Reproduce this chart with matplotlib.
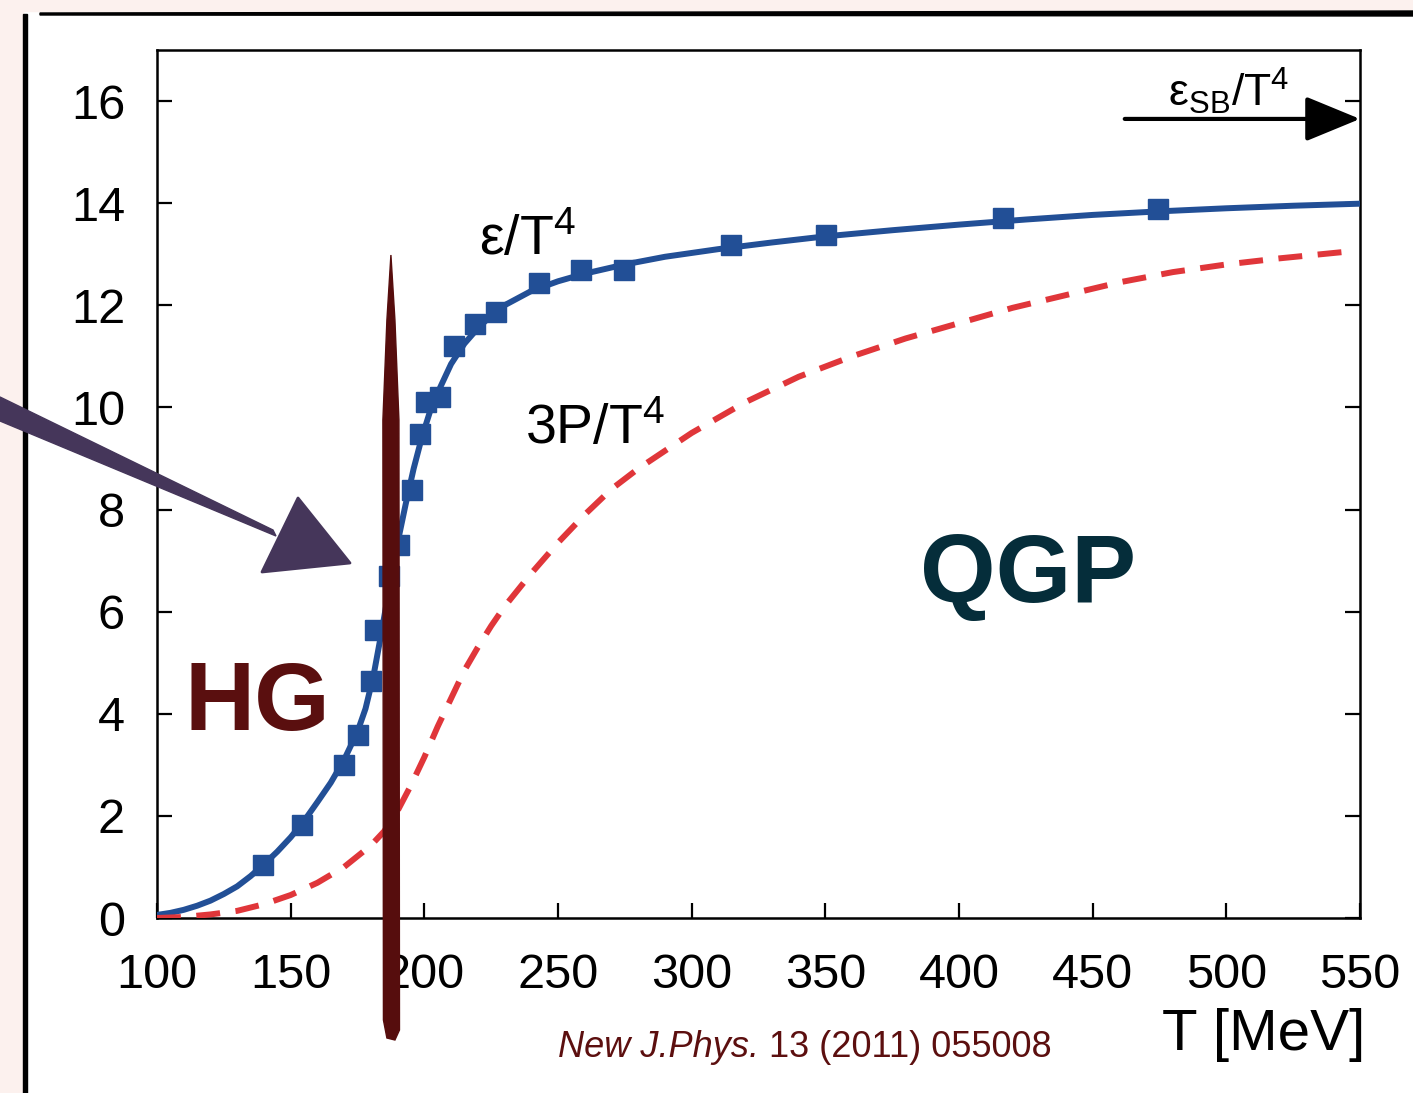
import matplotlib
matplotlib.use("Agg")
import matplotlib.pyplot as plt
from matplotlib.patches import Polygon, Rectangle, FancyArrowPatch
from matplotlib.transforms import blended_transform_factory

# lattice points for energy density / T^4
eps_T = [139.6, 154.1, 169.8, 175.0, 179.9, 181.7, 186.6, 190.7, 195.5, 198.5, 200.7,
         206.0, 211.2, 219.0, 226.9, 242.9, 258.6, 274.6, 314.6, 350.4, 416.4, 474.3]
eps_val = [1.04, 1.82, 3.00, 3.59, 4.65, 5.65, 6.69, 7.31, 8.39, 9.47, 10.1,
           10.2, 11.2, 11.63, 11.86, 12.43, 12.7, 12.7, 13.18, 13.37, 13.7, 13.88]

# smooth parametrisation through the points
eps_fit_T = [100, 105, 110, 115, 120, 125, 130, 135, 140, 145, 150, 155, 160, 165, 170, 175,
             178, 181, 184, 187, 190, 193, 196, 199, 202, 206, 210, 215, 220, 225, 230, 240,
             250, 260, 275, 290, 310, 330, 350, 375, 400, 425, 450, 475, 500, 525, 550]
eps_fit = [0.06, 0.10, 0.16, 0.24, 0.34, 0.47, 0.62, 0.82, 1.05, 1.30, 1.58, 1.90, 2.27, 2.65, 3.10, 3.65,
           4.10, 4.75, 5.60, 6.50, 7.35, 8.10, 8.80, 9.40, 9.90, 10.40, 10.85, 11.25, 11.55, 11.80, 12.00, 12.28,
           12.47, 12.62, 12.80, 12.95, 13.10, 13.23, 13.35, 13.47, 13.58, 13.68, 13.77, 13.84, 13.90, 13.95, 13.99]

# 3P / T^4
p_T = [100, 110, 120, 130, 140, 150, 160, 170, 180, 185, 190, 195, 200, 205, 210, 215, 220,
       225, 230, 240, 250, 260, 270, 280, 290, 300, 320, 340, 360, 380, 400, 420, 440, 460,
       480, 500, 520, 545]
p_val = [0.0, 0.02, 0.07, 0.14, 0.27, 0.45, 0.69, 1.0, 1.42, 1.7, 2.1, 2.6, 3.15, 3.75, 4.3, 4.85, 5.3,
         5.72, 6.1, 6.75, 7.35, 7.9, 8.4, 8.8, 9.15, 9.5, 10.1, 10.6, 11.0, 11.35, 11.65, 11.95, 12.2, 12.45,
         12.65, 12.8, 12.92, 13.05]

x_ticks = [100, 150, 200, 250, 300, 350, 400, 450, 500, 550]
y_ticks = [0, 2, 4, 6, 8, 10, 12, 14, 16]
eps_sb = 15.65
T_c = 187.5

plt.rcParams["font.family"] = ["Liberation Sans", "DejaVu Sans"]
plt.rcParams["mathtext.fontset"] = "custom"
plt.rcParams["mathtext.rm"] = "Liberation Sans"
plt.rcParams["mathtext.it"] = "Liberation Sans:italic"

W, H = 1413, 1093
fig = plt.figure(figsize=(W / 100, H / 100), dpi=100, facecolor="white")


def px(x, y):
    return (x / W, 1 - y / H)


# slide background and frame lines
pink = "#fcf1ee"
fig.patches.append(Rectangle((0, 0), 23 / W, 1, transform=fig.transFigure, color=pink, zorder=0))
fig.patches.append(Rectangle(px(0, 11), 1, 11 / H, transform=fig.transFigure, color=pink, zorder=0))
fig.patches.append(Polygon([px(40, 13), px(W, 11), px(W, 16), px(40, 15)],
                           transform=fig.transFigure, color="black", zorder=1))
fig.patches.append(Rectangle(px(23, H), 4 / W, 1 - 14 / H, transform=fig.transFigure,
                             color="black", zorder=1))

ax = fig.add_axes([157 / W, 1 - 918 / H, (1360 - 157) / W, (918 - 50) / H])
ax.set_xlim(100, 550)
ax.set_ylim(0, 17)

ax.plot(eps_fit_T, eps_fit, color="#224f96", lw=4.3, solid_capstyle="round",
        solid_joinstyle="round", zorder=3)
ax.plot(eps_T, eps_val, "s", color="#224f96", ms=15, zorder=4)
ax.plot(p_T, p_val, color="#e0363a", lw=4.3, dashes=(4, 2.6), zorder=3)

ax.set_xticks(x_ticks)
ax.set_yticks(y_ticks)
ax.tick_params(direction="in", length=11, width=1.6, labelsize=35)
ax.tick_params(axis="y", right=True, pad=23)
ax.tick_params(axis="x", pad=25)
for s in ax.spines.values():
    s.set_linewidth(1.8)

ax.text(220.5, 13.0, r"$\mathregular{\varepsilon/T^4}$", fontsize=40)
ax.text(237.5, 9.3, r"$\mathregular{3P/T^4}$", fontsize=40)
ax.text(478, 15.9, r"$\mathregular{\varepsilon_{SB}/T^4}$", fontsize=32)
ax.add_patch(FancyArrowPatch((462, eps_sb), (550, eps_sb),
                             arrowstyle="-|>,head_length=3.4,head_width=1.4",
                             mutation_scale=10, lw=3, color="black", shrinkA=0, shrinkB=0,
                             clip_on=False, zorder=5))

ax.text(110.4, 3.69, "HG", fontsize=70, fontweight="bold", color="#5a0f0f", zorder=6)
ax.text(385.4, 6.18, "QGP", fontsize=70, fontweight="bold", color="#052d3a", zorder=6)

fig.text(1365 / W, 1 - 1050 / H, "T [MeV]", fontsize=42, ha="right", va="baseline")
ref = fig.text(558 / W, 1 - 1057 / H, "New J.Phys.", fontsize=26, style="italic",
               color="#5c0f0f", va="baseline")
ax.annotate(" 13 (2011) 055008", xy=(1, 0), xycoords=ref, va="bottom", fontsize=26,
            color="#5c0f0f", annotation_clip=False)

# brush stroke at the transition temperature
tr = blended_transform_factory(ax.transData, fig.transFigure)
stroke = [(T_c, 1 - 255 / H), (T_c + 1.5, 1 - 320 / H), (T_c + 3.0, 1 - 420 / H),
          (T_c + 3.2, 1 - 1030 / H), (T_c + 1.5, 1 - 1040 / H), (T_c - 1.5, 1 - 1038 / H),
          (T_c - 2.8, 1 - 1020 / H), (T_c - 3.0, 1 - 420 / H), (T_c - 1.5, 1 - 320 / H)]
fig.patches.append(Polygon(stroke, closed=True, transform=tr, color="#560d0d", zorder=10))

# hand-drawn arrow pointing at the crossover
shaft = [px(0, 397), px(273, 530), px(276, 536), px(0, 421)]
head = [px(262, 572), px(298, 498), px(350, 563)]
fig.patches.append(Polygon(shaft, transform=fig.transFigure, color="#45365a", zorder=10))
fig.patches.append(Polygon(head, transform=fig.transFigure, color="#45365a", zorder=10,
                           joinstyle="round", lw=2))

fig.savefig("out.png", dpi=100)
